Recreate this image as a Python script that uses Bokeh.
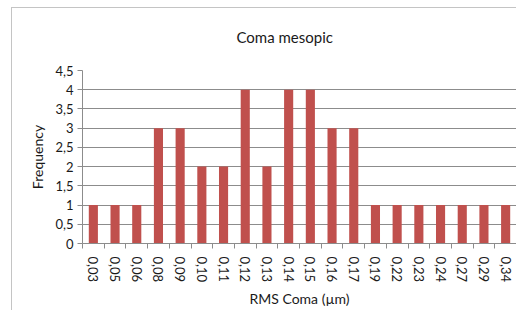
from bokeh.plotting import figure
from bokeh.models import FixedTicker, ColumnDataSource
from bokeh.embed import file_html
from bokeh.resources import INLINE

categories = ["0,03", "0,05", "0,06", "0,08", "0,09", "0,10", "0,11", "0,12", "0,13", "0,14",
              "0,15", "0,16", "0,17", "0,19", "0,22", "0,23", "0,24", "0,27", "0,29", "0,34"]
frequency = [1, 1, 1, 3, 3, 2, 2, 4, 2, 4, 4, 3, 3, 1, 1, 1, 1, 1, 1, 1]
y_ticks = [0, 0.5, 1, 1.5, 2, 2.5, 3, 3.5, 4, 4.5]
y_tick_labels = ["0", "0,5", "1", "1,5", "2", "2,5", "3", "3,5", "4", "4,5"]

FONT = "Lato"
GRID = "#8c8c8c"
TEXT = "#1a1a1a"
FRAME = "#c4c4c4"

n = len(categories)
xs = [i + 0.5 for i in range(n)]
src = ColumnDataSource(dict(x=xs, top=frequency))

frame_bg = (f"linear-gradient({FRAME},{FRAME}) 11px 7px / 1px 100% no-repeat, "
            f"linear-gradient({FRAME},{FRAME}) 11px 7px / 100% 1px no-repeat, white")

p = figure(width=516, height=310, output_backend="svg", toolbar_location=None,
           x_range=(0, n), y_range=(0, 4.5), title="Coma mesopic",
           min_border_left=82, min_border_right=0, min_border_top=69, min_border_bottom=60,
           styles={"background": frame_bg})
p.outline_line_color = None
p.background_fill_color = "white"
p.border_fill_color = None

p.vbar(x="x", top="top", width=0.42, bottom=0, source=src,
       fill_color="#C0504D", line_color=None)

# title
p.title.text_font = FONT
p.title.text_font_size = "15px"
p.title.text_font_style = "normal"
p.title.text_color = TEXT
p.title.align = "left"
p.title.offset = 154
p.title.standoff = 50

# x axis
xa = p.xaxis[0]
xa.ticker = FixedTicker(ticks=xs, minor_ticks=list(range(n + 1)))
xa.major_label_overrides = {x: c for x, c in zip(xs, categories)}
xa.major_label_orientation = "vertical"
xa.major_tick_out = 0
xa.major_tick_in = 0
xa.minor_tick_out = 5
xa.minor_tick_in = 0
xa.minor_tick_line_color = GRID
xa.axis_line_color = GRID
xa.major_label_text_font = FONT
xa.major_label_text_font_size = "13px"
xa.major_label_text_color = TEXT
xa.major_label_standoff = 8
xa.axis_label = "RMS Coma (µm)"
xa.axis_label_text_font = FONT
xa.axis_label_text_font_size = "14px"
xa.axis_label_text_font_style = "normal"
xa.axis_label_text_color = TEXT
xa.axis_label_standoff = 5

# y axis
ya = p.yaxis[0]
ya.ticker = FixedTicker(ticks=y_ticks)
ya.major_label_overrides = {t: l for t, l in zip(y_ticks, y_tick_labels)}
ya.major_tick_out = 5
ya.major_tick_in = 0
ya.minor_tick_line_color = None
ya.major_tick_line_color = GRID
ya.axis_line_color = GRID
ya.major_label_text_font = FONT
ya.major_label_text_font_size = "13px"
ya.major_label_text_color = TEXT
ya.major_label_standoff = 4
ya.axis_label = "Frequency"
ya.axis_label_text_font = FONT
ya.axis_label_text_font_size = "14px"
ya.axis_label_text_font_style = "normal"
ya.axis_label_text_color = TEXT
ya.axis_label_standoff = 6

p.xgrid.grid_line_color = None
p.ygrid.grid_line_color = GRID
p.ygrid.grid_line_width = 1

open("out.html", "w").write(file_html(p, INLINE))
